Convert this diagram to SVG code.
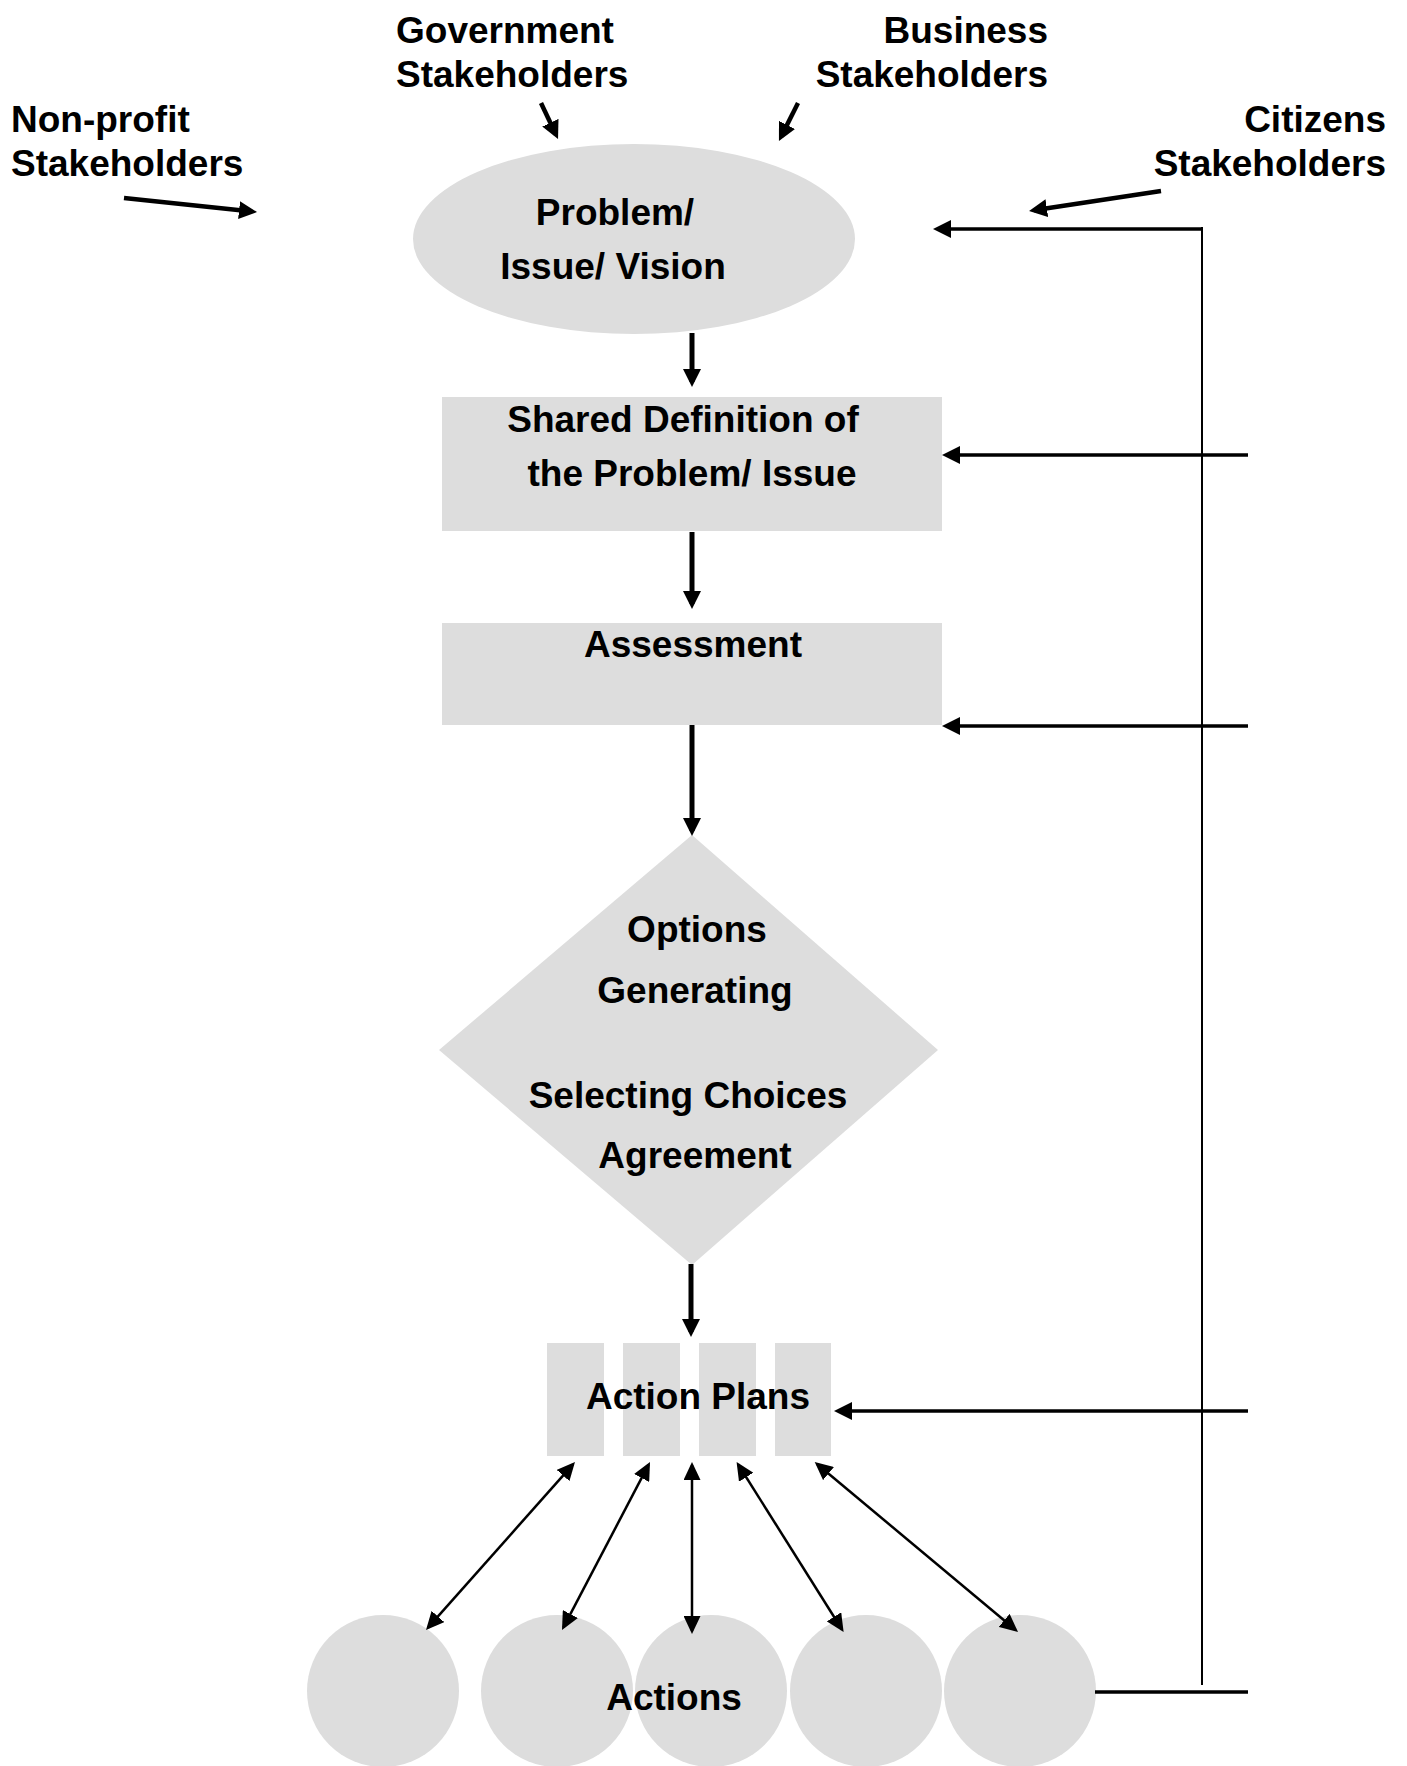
<svg xmlns="http://www.w3.org/2000/svg" width="1407" height="1766" viewBox="0 0 1407 1766">
<style>
text{font-family:"Liberation Sans",Arial,sans-serif;font-weight:bold;font-size:37px;fill:#000}
.m{text-anchor:middle}
.e{text-anchor:end}
.shape{fill:#dddddd;stroke:none}
.thick{stroke:#000;stroke-width:4.5;fill:none;marker-end:url(#ah)}
.down{stroke:#000;stroke-width:5;fill:none;marker-end:url(#ah)}
.fb{stroke:#000;stroke-width:3.5;fill:none;marker-end:url(#ah)}
.thin{stroke:#000;stroke-width:2.5;fill:none;marker-start:url(#dh);marker-end:url(#dh)}
.plain{stroke:#000;fill:none}
</style>
<defs>
<marker id="ah" viewBox="0 0 18 18" markerWidth="18" markerHeight="18" refX="13" refY="9" markerUnits="userSpaceOnUse" orient="auto"><path d="M0,0 L18,9 L0,18 z" fill="#000"/></marker>
<marker id="dh" viewBox="0 0 18 17" markerWidth="18" markerHeight="17" refX="15" refY="8.5" markerUnits="userSpaceOnUse" orient="auto-start-reverse"><path d="M0,0 L18,8.5 L0,17 z" fill="#000"/></marker>
</defs>
<rect width="1407" height="1766" fill="#fff"/>
<g id="stakeholder-gov"><text x="396" y="43">Government</text><text x="396" y="87">Stakeholders</text></g>
<g id="stakeholder-business"><text class="e" x="1048" y="43">Business</text><text class="e" x="1048" y="87">Stakeholders</text></g>
<g id="stakeholder-nonprofit"><text x="11" y="132">Non-profit</text><text x="11" y="176">Stakeholders</text></g>
<g id="stakeholder-citizens"><text class="e" x="1386" y="132">Citizens</text><text class="e" x="1386" y="176">Stakeholders</text></g>
<g id="problem"><ellipse class="shape" cx="634" cy="239" rx="221" ry="95"/><text class="m" x="615" y="225">Problem/</text><text class="m" x="613" y="279">Issue/ Vision</text></g>
<g id="shared-definition"><rect class="shape" x="442" y="397" width="500" height="134"/><text class="m" x="683" y="432">Shared Definition of</text><text class="m" x="692" y="486">the Problem/ Issue</text></g>
<g id="assessment"><rect class="shape" x="442" y="623" width="500" height="102"/><text class="m" x="693" y="657">Assessment</text></g>
<g id="options"><polygon class="shape" points="692,835 938,1050 692,1265 439,1050"/><text class="m" x="697" y="942">Options</text><text class="m" x="695" y="1003">Generating</text><text class="m" x="688" y="1108">Selecting Choices</text><text class="m" x="695" y="1168">Agreement</text></g>
<g id="action-plans"><rect class="shape" x="547" y="1343" width="57" height="113"/><rect class="shape" x="623" y="1343" width="57" height="113"/><rect class="shape" x="699" y="1343" width="57" height="113"/><rect class="shape" x="775" y="1343" width="56" height="113"/><text class="m" x="698" y="1409">Action Plans</text></g>
<g id="actions"><circle class="shape" cx="383" cy="1691" r="76"/><circle class="shape" cx="557" cy="1691" r="76"/><circle class="shape" cx="711" cy="1691" r="76"/><circle class="shape" cx="866" cy="1691" r="76"/><circle class="shape" cx="1020" cy="1691" r="76"/><text class="m" x="674" y="1710">Actions</text></g>
<g id="connectors">
<line class="thick" x1="124" y1="198" x2="252" y2="211.5"/>
<line class="thick" x1="541" y1="103" x2="555.9" y2="134.5"/>
<line class="thick" x1="798" y1="103" x2="781.2" y2="136.5"/>
<line class="thick" x1="1161" y1="191" x2="1034" y2="210.2"/>
<line class="down" x1="692" y1="333" x2="692" y2="382"/>
<line class="down" x1="692" y1="532" x2="692" y2="604"/>
<line class="down" x1="692" y1="725" x2="692" y2="831"/>
<line class="down" x1="691" y1="1264" x2="691" y2="1332"/>
<line class="plain" stroke-width="2" x1="1202" y1="227" x2="1202" y2="1685"/>
<line class="fb" x1="1202" y1="229" x2="938" y2="229"/>
<line class="fb" x1="1248" y1="455" x2="947" y2="455"/>
<line class="fb" x1="1248" y1="726" x2="947" y2="726"/>
<line class="fb" x1="1248" y1="1411" x2="839" y2="1411"/>
<line class="plain" stroke-width="3.5" x1="1095" y1="1692" x2="1248" y2="1692"/>
<line class="thin" x1="573" y1="1464.3" x2="428" y2="1627.7"/>
<line class="thin" x1="648.6" y1="1464.7" x2="563.4" y2="1627.3"/>
<line class="thin" x1="692" y1="1465" x2="692" y2="1631"/>
<line class="thin" x1="738.2" y1="1464.5" x2="842" y2="1629.5"/>
<line class="thin" x1="817" y1="1464" x2="1015.7" y2="1630"/>
</g>
</svg>
